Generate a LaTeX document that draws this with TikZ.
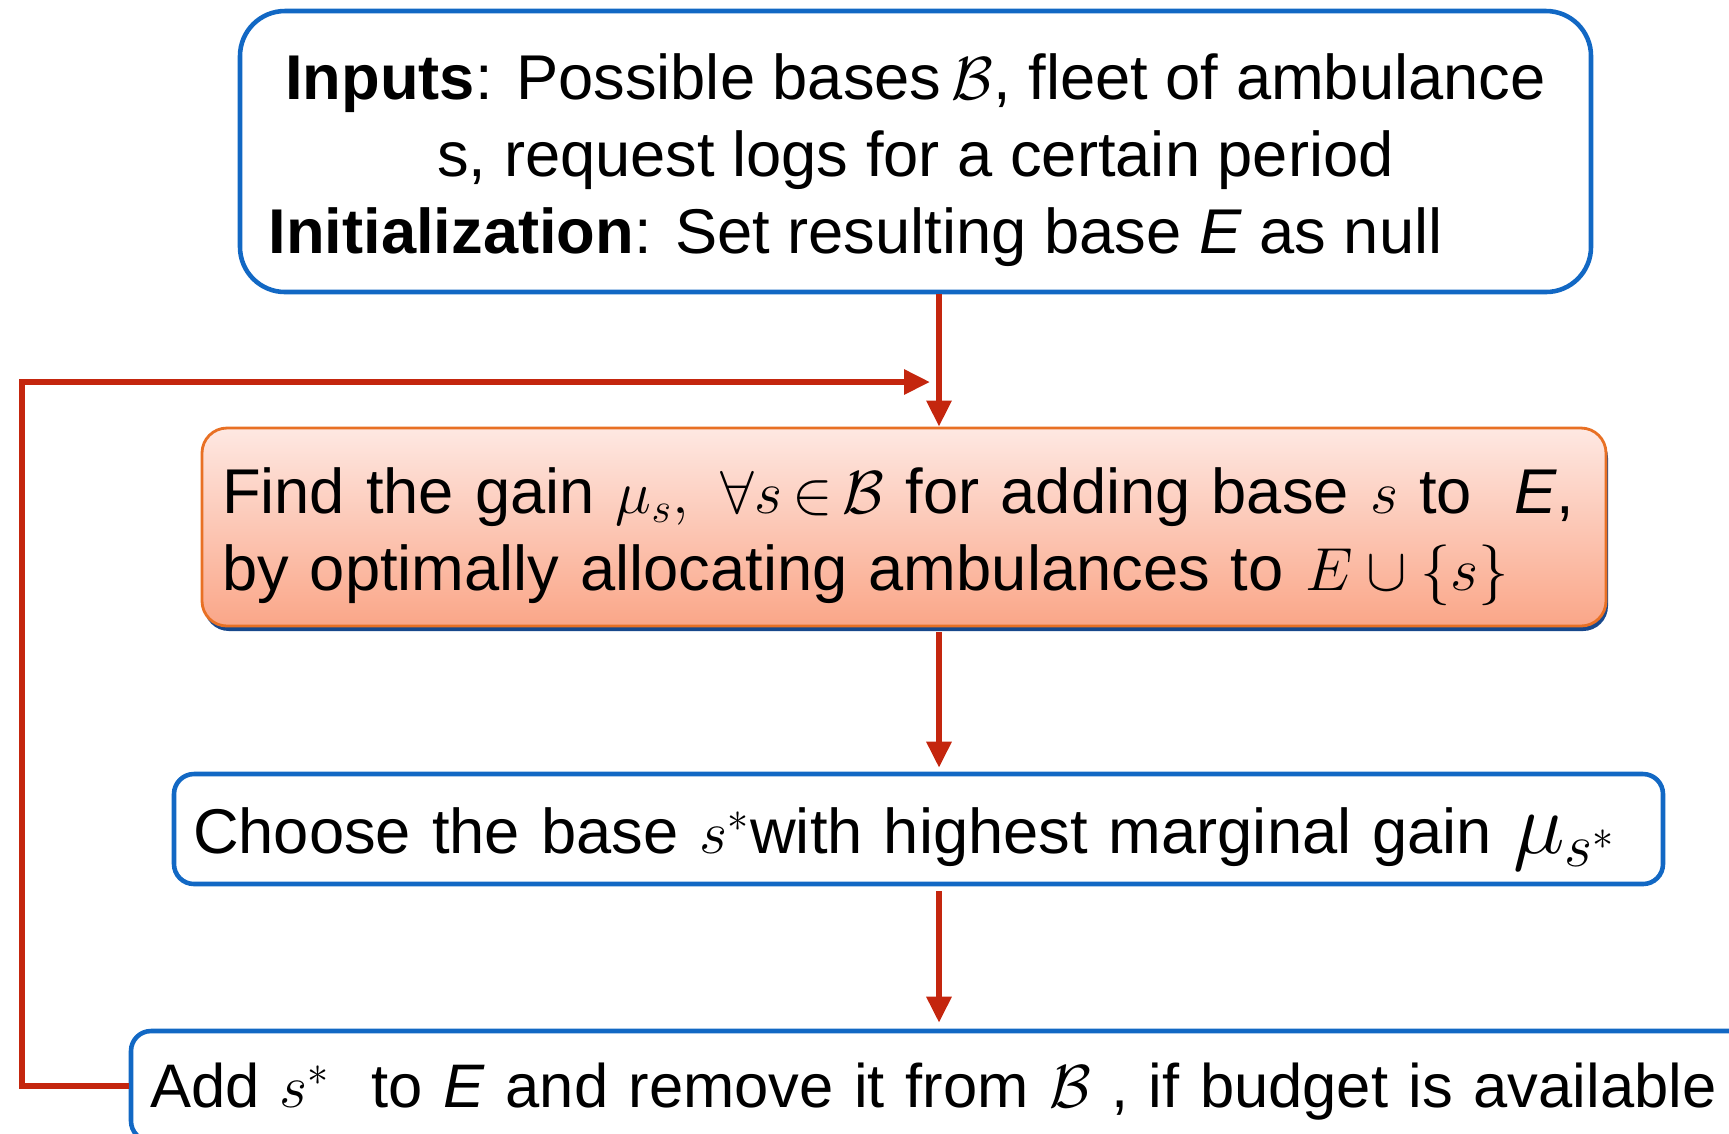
\documentclass[tikz,border=0pt]{standalone}
\usepackage{amsmath}
\usepackage{amssymb}
\usepackage{fontspec}
\setmainfont{Liberation Sans}
\usetikzlibrary{arrows.meta,shadows}

\definecolor{boxblue}{RGB}{18,104,196}
\definecolor{flowred}{RGB}{196,38,14}
\definecolor{gainedge}{RGB}{232,112,36}
\definecolor{gaintop}{RGB}{254,232,226}
\definecolor{gainbottom}{RGB}{250,166,136}
\definecolor{gainshadow}{RGB}{24,72,140}

\begin{document}
\begin{tikzpicture}[
    every node/.style={font=\fontsize{18}{21.9}\selectfont},
    stepbox/.style={draw=boxblue, line width=1.3pt, fill=white, rounded corners=0.2cm, inner ysep=0pt},
    gainbox/.style={draw=gainedge, line width=0.8pt, rounded corners=0.25cm,
      top color=gaintop, bottom color=gainbottom,
      drop shadow={shadow xshift=0.02cm, shadow yshift=-0.05cm, fill=gainshadow, opacity=1}},
    flow/.style={draw=flowred, line width=1.7pt, -{Triangle[length=0.26cm,width=0.24cm]}}
  ]
    \useasboundingbox (0,0) rectangle (17.29,-11.33);
    \clip (0,0) rectangle (17.29,-11.33);
    \coordinate (spine) at (9.39,0);
    \coordinate (loop) at (0.22,-3.82);
    \coordinate (back) at (9.30,-3.82);

    \node[stepbox, rounded corners=0.45cm, minimum width=13.51cm, minimum height=2.81cm, align=center]
      (inputs) at (9.155,-1.515)
      {\rule{0pt}{0.63cm}\textbf{Inputs}: Possible bases$\,\mathcal{B}$, fleet of ambulance\\
       s, request logs for a certain period\\
       \hspace*{-1.2cm}\textbf{Initialization}: Set resulting base \textit{E} as null};
    \node[gainbox, minimum height=1.98cm, text width=13.64cm, inner xsep=0.2cm, inner ysep=0pt, align=left]
      (gain) at (9.04,-5.27)
      {\mbox{\rule{0pt}{0.65cm}Find the gain $\mu_s,\ \forall s\,{\in}\,\mathcal{B}$\ for adding base $s$ to\ \ \textit{E},}\\
       by optimally allocating ambulances to $E\cup\{s\}$};
    \node[stepbox, minimum height=1.10cm, text width=14.51cm, inner xsep=0.19cm, align=left]
      (choose) at (9.185,-8.29)
      {\rule{0pt}{0.66cm}Choose the base $s^*$with highest marginal gain {\fontsize{23}{23}\selectfont$\mu_{s^*}$}};
    \node[stepbox, minimum height=1.10cm, text width=16.1cm, inner xsep=0.19cm, align=left,
      font=\fontsize{17.5}{21.9}\selectfont]
      (add) at (9.55,-10.86)
      {\rule{0pt}{0.56cm}Add $s^*$\ \ to \textit{E} and remove it from $\mathcal{B}$ , if budget is available};

    \draw[flow] (inputs.south -| spine) -- (gain.north -| spine);
    \draw[flow, shorten <=0.05cm] (gain.south -| spine) -- ([yshift=0.04cm]choose.north -| spine);
    \draw[flow, shorten <=0.05cm] (choose.south -| spine) -- ([yshift=0.06cm]add.north -| spine);
    \draw[flow] (add.west) -| (loop) -- (back);
\end{tikzpicture}
\end{document}
